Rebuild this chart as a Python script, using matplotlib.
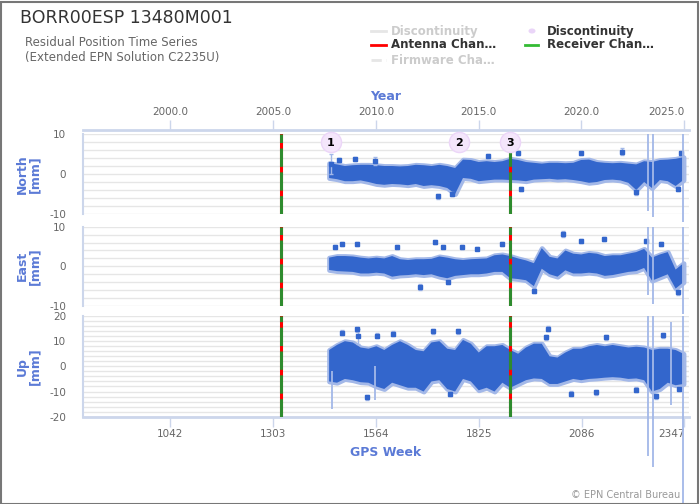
import matplotlib
matplotlib.use('Agg')
import matplotlib.pyplot as plt
from matplotlib.lines import Line2D
from matplotlib.patches import Rectangle, Circle
from matplotlib.ticker import MultipleLocator

plt.rcParams['axes.unicode_minus'] = False

# --- data ---
weeks = [1445, 1465, 1485, 1505, 1525, 1545, 1565, 1585, 1605, 1625, 1645, 1665,
         1685, 1705, 1725, 1745, 1765, 1785, 1805, 1825, 1845, 1865, 1885, 1905,
         1925, 1945, 1965, 1985, 2005, 2025, 2045, 2065, 2085, 2105, 2125, 2145,
         2165, 2185, 2205, 2225, 2245, 2265, 2285, 2305, 2325, 2345]

north_lo = [-1.0, -1.3, -1.8, -1.8, -1.6, -2.0, -2.5, -2.7, -2.5, -2.6, -2.8, -2.5,
            -3.0, -2.8, -3.0, -3.5, -5.0, -1.0, -1.2, -1.8, -1.6, -1.4, -1.4, -1.5,
            -1.6, -1.8, -1.4, -1.3, -1.2, -1.4, -1.3, -1.5, -1.8, -2.2, -2.0, -1.5,
            -1.4, -1.6, -2.2, -4.0, -2.0, -3.5, -1.5, -1.8, -3.0, -1.5]
north_hi = [2.7, 2.4, 2.0, 2.2, 2.3, 2.3, 2.2, 2.0, 2.0, 1.9, 2.0, 2.3,
            2.2, 2.0, 2.3, 2.0, 1.5, 3.6, 3.5, 3.0, 3.2, 3.0, 3.2, 3.8,
            3.5, 3.0, 2.8, 2.6, 2.8, 2.8, 2.7, 2.8, 3.5, 3.6, 3.0, 2.8,
            2.7, 2.8, 2.6, 2.4, 3.2, 3.0, 3.5, 3.6, 3.8, 4.2]

east_lo = [-0.9, -1.2, -1.3, -1.4, -1.8, -1.8, -1.6, -1.8, -2.6, -2.3, -2.2, -2.0,
           -2.2, -2.0, -2.6, -3.0, -2.4, -2.2, -2.0, -2.0, -1.8, -1.4, -1.4, -3.0,
           -3.2, -3.5, -5.0, -0.6, -2.0, -2.6, -1.0, -1.8, -1.8, -1.6, -1.8, -2.4,
           -2.2, -1.8, -1.4, -1.2, -0.4, -3.6, -2.8, -2.0, -5.6, -4.0]
east_hi = [2.2, 2.6, 2.6, 2.5, 2.2, 2.0, 2.2, 2.0, 2.6, 1.8, 1.6, 1.8,
           1.8, 1.9, 2.5, 2.2, 1.8, 1.6, 1.8, 1.9, 2.0, 2.8, 3.0, 2.6,
           2.0, 1.5, 0.8, 4.6, 2.4, 2.0, 4.0, 3.2, 3.0, 3.4, 3.2, 2.6,
           2.8, 2.8, 3.2, 3.6, 4.4, 2.2, 3.0, 3.6, -0.8, 0.8]

up_lo = [-6.0, -6.5, -5.0, -5.5, -6.3, -6.5, -8.0, -9.0, -6.5, -7.5, -8.5, -8.5,
         -10.0, -6.0, -5.5, -9.0, -10.0, -5.0, -6.0, -9.5, -8.5, -10.0, -6.5, -8.5,
         -7.0, -5.5, -4.8, -5.0, -7.0, -7.0, -6.0, -5.0, -5.5, -5.0, -4.8, -4.5,
         -4.3, -4.5, -5.0, -4.8, -5.5, -10.0, -9.0, -6.5, -7.5, -7.0]
up_hi = [6.5, 8.5, 10.0, 9.5, 7.5, 7.0, 8.0, 6.5, 8.5, 10.0, 8.5, 6.5,
         6.0, 9.5, 10.0, 7.0, 6.5, 10.5, 9.0, 5.5, 8.0, 8.0, 8.5, 6.5,
         5.0, 7.5, 9.0, 9.0, 4.0, 3.5, 5.5, 7.0, 7.0, 8.0, 8.5, 8.0,
         8.5, 8.0, 7.5, 7.8, 7.5, 6.5, 7.0, 7.0, 6.5, 5.0]

# scattered single points (week, value, error)
north_pt_w = [1449, 1470, 1510, 1561, 1722, 1756, 1849, 1924, 1932, 2084, 2190, 2224, 2330, 2338]
north_pt_v = [2.5, 3.5, 3.8, 3.2, -5.6, -4.9, 4.4, 5.2, -3.7, 5.2, 5.6, -4.6, -3.7, 5.2]
north_pt_e = [2.5, 0.5, 0.5, 1.0, 0.6, 0.5, 0.5, 0.5, 0.5, 0.5, 0.8, 0.6, 0.5, 0.5]

east_pt_w = [1460, 1477, 1515, 1617, 1676, 1714, 1735, 1748, 1782, 1820, 1883,
             1966, 2038, 2085, 2144, 2250, 2287, 2330]
east_pt_v = [4.9, 5.7, 5.7, 4.9, -5.2, 6.2, 4.9, -4.0, 4.9, 4.5, 5.7,
             -6.1, 8.2, 6.5, 6.8, 6.3, 5.7, -6.5]
east_pt_e = [0.6, 0.5, 0.5, 0.5, 0.8, 0.5, 0.5, 0.5, 0.5, 0.5, 0.5,
             0.6, 0.8, 0.5, 0.5, 0.5, 0.5, 0.6]

up_pt_w = [1477, 1515, 1519, 1540, 1566, 1608, 1709, 1752, 1773, 1996, 2000,
           2059, 2123, 2148, 2224, 2275, 2292, 2334]
up_pt_v = [13.4, 14.7, 12.0, -12.2, 12.1, 13.0, 13.9, -10.9, 13.9, 11.6, 15.0,
           -10.9, -10.2, 11.6, -9.3, -11.9, 12.3, -8.9]
up_pt_e = [1.0, 1.0, 3.0, 1.0, 1.0, 1.0, 1.0, 1.0, 1.0, 1.0, 1.0,
           1.0, 1.0, 1.0, 1.0, 1.0, 1.0, 1.0]

# long error bars
north_bar_w = [2256, 2268, 2344]
north_bar_lo = [-9.2, -10.8, -12.0]
north_bar_hi = [10.0, 10.0, 10.0]
east_bar_w = [2256, 2268, 2344]
east_bar_lo = [-7.3, -9.5, -12.0]
east_bar_hi = [10.0, 10.0, 10.0]
up_bar_w = [1452, 1562, 2256, 2268, 2313, 2344]
up_bar_lo = [-17.0, -13.4, -35.7, -40.1, -15.4, -55.0]
up_bar_hi = [-2.0, 0.0, 20.0, 20.0, 17.6, 20.0]

disc_weeks = [1449, 1775, 1905]
disc_labels = ['1', '2', '3']
antenna_weeks = [1322, 1905]
receiver_weeks = [1322, 1905]

week_ticks = [1042, 1303, 1564, 1825, 2086, 2347]
year_ticks = [2000, 2005, 2010, 2015, 2020, 2025]

BLUE = '#3366cc'
HALO = '#a3b8e8'
LABEL = '#5b7ad6'
AXIS = '#ccd6eb'
GRID = '#e6e6e6'
TICK = '#666666'

W, H = 700, 504
fig = plt.figure(figsize=(7, 5.04), dpi=100)


def px(x, y):
    return x / W, 1 - y / H


def make_axes(top, bottom):
    ax = fig.add_axes([83 / W, 1 - bottom / H, (689 - 83) / W, (bottom - top) / H])
    ax.set_xlim(820, 2359)
    for s in ['top', 'right', 'bottom']:
        ax.spines[s].set_visible(False)
    ax.spines['left'].set_color(AXIS)
    ax.spines['left'].set_linewidth(1.5)
    ax.yaxis.set_minor_locator(MultipleLocator(2))
    ax.grid(True, which='both', axis='y', color=GRID, linewidth=1)
    ax.set_axisbelow(True)
    ax.tick_params(axis='y', which='both', length=0, labelsize=7.5, labelcolor=TICK, pad=12)
    ax.tick_params(axis='x', which='both', bottom=False, labelbottom=False)
    return ax


ax_n = make_axes(134, 214)
ax_e = make_axes(226.7, 306)
ax_u = make_axes(316, 416.7)

ax_n.set_ylim(-10, 10)
ax_n.set_yticks([-10, 0, 10])
ax_e.set_ylim(-10, 10)
ax_e.set_yticks([-10, 0, 10])
ax_u.set_ylim(-20, 20)
ax_u.set_yticks([-20, -10, 0, 10, 20])

series = [
    (ax_n, north_lo, north_hi, north_pt_w, north_pt_v, north_pt_e, north_bar_w, north_bar_lo, north_bar_hi),
    (ax_e, east_lo, east_hi, east_pt_w, east_pt_v, east_pt_e, east_bar_w, east_bar_lo, east_bar_hi),
    (ax_u, up_lo, up_hi, up_pt_w, up_pt_v, up_pt_e, up_bar_w, up_bar_lo, up_bar_hi),
]

for ax, lo, hi, pw, pv, pe, bw, blo, bhi in series:
    # light fringe of error bars, then the dense core of daily points
    ax.fill_between(weeks, lo, hi, facecolor=BLUE, edgecolor=HALO, linewidth=3.5, zorder=3)
    ax.fill_between(weeks, lo, hi, facecolor=BLUE, edgecolor='none', zorder=4)
    ax.errorbar(pw, pv, yerr=pe, fmt='s', ms=2.5, color=BLUE, ecolor=HALO,
                elinewidth=1, capsize=1.5, zorder=4)
    ax.vlines(bw, blo, bhi, color=HALO, linewidth=1.3, zorder=5, clip_on=False)
    for w in antenna_weeks:
        ax.axvline(w, color='#ff0000', linewidth=2.2, zorder=6)
    for w in receiver_weeks:
        ax.axvline(w, color='#2e8b2e', linewidth=2.2, dashes=(6, 1.8), zorder=7)

# discontinuity bubbles on the North panel
ax_n.scatter(disc_weeks, [8] * len(disc_weeks), s=210, facecolor='#f4e6fb',
             edgecolor='#ecd6f8', linewidth=1, zorder=8, clip_on=False)
for w, t in zip(disc_weeks, disc_labels):
    ax_n.text(w, 7.8, t, ha='center', va='center', fontsize=8, fontweight='bold',
              color='black', zorder=9)

# bottom GPS week axis
ax_u.spines['bottom'].set_visible(True)
ax_u.spines['bottom'].set_color(AXIS)
ax_u.spines['bottom'].set_linewidth(2)
ax_u.set_xticks(week_ticks)
ax_u.set_xticklabels([str(t) for t in week_ticks])
ax_u.tick_params(axis='x', bottom=True, labelbottom=True, length=7, width=1,
                 color=AXIS, labelsize=7.5, labelcolor=TICK, pad=1.5)
ax_u.get_xticklabels()[-1].set_ha('right')

# top year axis
to_year = lambda w: 2000 + (w - 1042) * 7 / 365.25
to_week = lambda y: 1042 + (y - 2000) * 365.25 / 7
sec = ax_n.secondary_xaxis(1.05, functions=(to_year, to_week))
sec.set_xticks(year_ticks)
sec.set_xticklabels(['%.1f' % y for y in year_ticks])
sec.spines['top'].set_color(AXIS)
sec.spines['top'].set_linewidth(2)
sec.tick_params(axis='x', length=7, width=1, color=AXIS, labelsize=7.5,
                labelcolor=TICK, pad=2)
sec.get_xticklabels()[-1].set_ha('right')

# axis titles
for ax, name in [(ax_n, 'North'), (ax_e, 'East'), (ax_u, 'Up')]:
    ax.set_ylabel(name + '\n[mm]', color=LABEL, fontsize=9, fontweight='bold',
                  linespacing=1.0)
    ax.yaxis.set_label_coords(-0.068, 0.5)
fig.text(*px(386, 96), 'Year', color=LABEL, fontsize=9, fontweight='bold',
         ha='center', va='center')
fig.text(*px(386, 452), 'GPS Week', color=LABEL, fontsize=9, fontweight='bold',
         ha='center', va='center')

# titles
fig.text(*px(20, 18), 'BORR00ESP 13480M001', fontsize=12.5, color='#333333',
         ha='left', va='center')
fig.text(*px(25, 42), 'Residual Position Time Series', fontsize=8.5, color='#666666',
         ha='left', va='center')
fig.text(*px(25, 57), '(Extended EPN Solution C2235U)', fontsize=8.5, color='#666666',
         ha='left', va='center')
fig.text(*px(680, 495), '\u00a9 EPN Central Bureau', fontsize=7, color='#999999',
         ha='right', va='center')

# legend
def leg_line(x0, x1, y, color, ls='-'):
    fig.add_artist(Line2D([x0 / W, x1 / W], [1 - y / H, 1 - y / H], color=color,
                          linewidth=2, linestyle=ls, transform=fig.transFigure))

def leg_text(x, y, s, color):
    fig.text(*px(x, y), s, fontsize=8.5, fontweight='bold', color=color,
             ha='left', va='center')

leg_line(371, 386, 31, '#e6e6e6')
leg_text(391, 31, 'Discontinuity', '#cccccc')
fig.add_artist(Circle(px(532, 31), 3.5 / W, transform=fig.transFigure,
                      facecolor='#ead5f8', edgecolor='none'))
leg_text(547, 31, 'Discontinuity', '#333333')
leg_line(371, 386, 45, '#ff0000')
leg_text(391, 45, 'Antenna Chan\u2026', '#333333')
leg_line(525, 538, 45, '#33bb33')
leg_text(547, 45, 'Receiver Chan\u2026', '#333333')
leg_line(371, 386, 60, '#e6e6e6', '--')
leg_text(391, 60, 'Firmware Cha\u2026', '#cccccc')

# outer frame
fig.add_artist(Rectangle((0.5 / W, 0.5 / H), (W - 3) / W, (H - 2) / H,
                         transform=fig.transFigure, fill=False,
                         edgecolor='#777777', linewidth=1.5))

fig.savefig('out.png', dpi=100)
